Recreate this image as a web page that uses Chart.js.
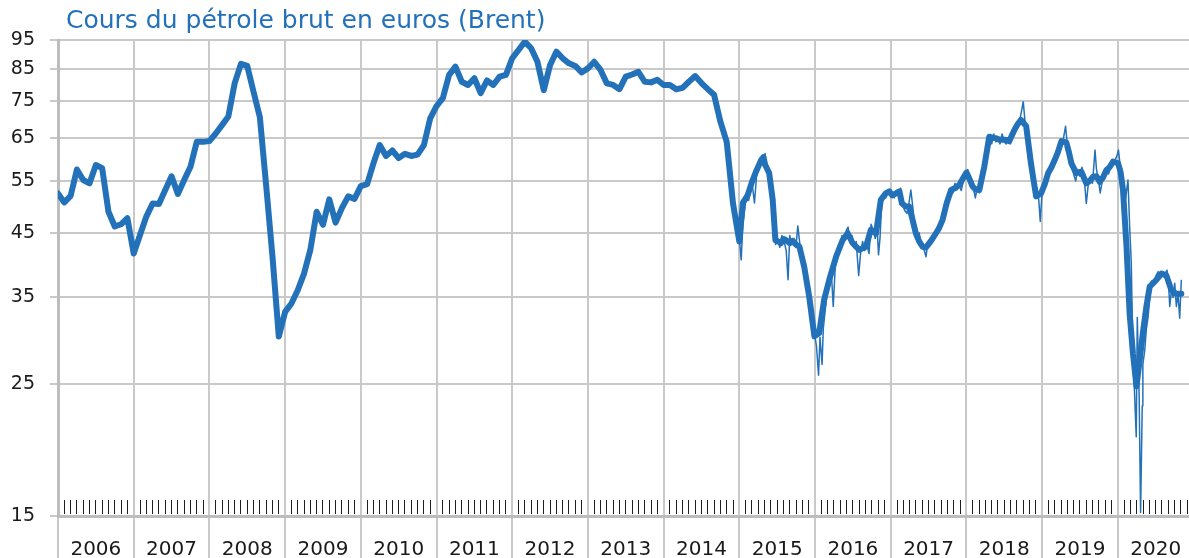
<!DOCTYPE html>
<html><head><meta charset="utf-8">
<script src="https://cdn.jsdelivr.net/npm/chart.js@4.4.1/dist/chart.umd.min.js"></script>
<style>html,body{margin:0;padding:0;background:#fff}#wrap{width:1189px;height:558px}</style>
</head><body><div id="wrap"><canvas id="c" width="1189" height="558"></canvas></div>
<script>
const chartTitle = 'Cours du pétrole brut en euros (Brent)';
const yearLabels = [2006,2007,2008,2009,2010,2011,2012,2013,2014,2015,2016,2017,2018,2019,2020];
const yTickValues = [15,25,35,45,55,65,75,85,95];
const xEnd = 2020.94;

// Monthly averages, Jan 2006 - Dec 2014 (EUR / barrel)
const monthlyStartYear = 2006;
const monthlyPrices = [
  52.4,50.6,51.9,57.5,55.2,54.5,58.5,57.8,48.8,46.1,46.5,47.6,
  41.5,44.6,47.9,50.4,50.3,53.1,56.0,52.3,55.2,58.1,64.0,64.0,
  64.2,66.1,68.3,70.6,80.3,86.6,85.9,77.7,70.4,54.0,41.0,30.1,
  33.1,34.2,36.0,38.4,42.1,48.8,46.4,51.2,46.8,49.5,51.8,51.3,
  53.9,54.3,58.9,63.2,60.6,61.9,60.1,61.1,60.6,60.9,63.2,70.1,
  73.5,75.8,83.0,85.7,80.8,79.8,81.9,77.3,81.2,79.8,82.4,83.0,
  88.5,91.4,94.4,92.0,87.3,78.2,86.2,90.8,88.5,86.8,85.9,83.8,
  85.1,87.3,84.6,80.3,79.8,78.5,82.4,83.1,84.0,80.8,80.6,81.4,
  79.8,79.8,78.5,78.9,80.8,82.6,80.4,78.5,76.8,69.2,64.0,50.4
];

// Smoothed series 2015-2020
const smoothDates = ['2015-01-01','2015-01-18','2015-02-10','2015-03-03','2015-03-22','2015-04-17','2015-04-27','2015-05-06','2015-05-25','2015-06-11','2015-06-24','2015-07-08','2015-07-20','2015-08-03','2015-08-15','2015-09-01','2015-09-15','2015-10-01','2015-10-18','2015-11-10','2015-12-04','2015-12-29',
'2016-01-21','2016-02-14','2016-03-10','2016-04-12','2016-05-13','2016-06-07','2016-07-01','2016-08-02','2016-09-03','2016-09-27','2016-10-22','2016-11-14','2016-12-08','2016-12-25',
'2017-01-09','2017-02-12','2017-02-24','2017-03-15','2017-03-31','2017-04-15','2017-05-02','2017-05-18','2017-06-04','2017-06-20','2017-07-06','2017-07-22','2017-08-07','2017-08-22','2017-09-08','2017-09-28','2017-10-19','2017-11-08','2017-11-28','2017-12-15',
'2018-01-01','2018-01-15','2018-01-31','2018-02-15','2018-03-04','2018-03-28','2018-04-21','2018-05-08','2018-05-24','2018-06-10','2018-06-25','2018-07-10','2018-07-27','2018-08-20','2018-09-05','2018-09-21','2018-10-16','2018-11-08','2018-12-03','2018-12-27',
'2019-01-15','2019-01-30','2019-02-15','2019-03-03','2019-03-18','2019-04-04','2019-04-28','2019-05-10','2019-05-22','2019-06-15','2019-07-09','2019-08-02','2019-08-18','2019-09-04','2019-09-20','2019-10-06','2019-10-22','2019-11-07','2019-11-22','2019-12-09',
'2020-01-02','2020-01-14','2020-01-26','2020-02-12','2020-02-27','2020-03-14','2020-03-31','2020-04-16','2020-05-01','2020-05-18','2020-06-03','2020-06-20','2020-07-06','2020-07-30','2020-08-23','2020-09-16','2020-10-10','2020-11-03'];
const smoothPrices = [43.5,50.5,52.0,54.8,57.0,59.7,60.3,58.5,56.7,51.1,43.7,43.5,43.2,43.9,43.7,43.2,43.6,43.0,42.6,39.4,35.1,30.1,
30.5,34.7,37.5,41.0,43.7,44.9,43.2,42.1,42.6,45.5,44.9,51.1,52.4,52.8,
52.0,52.8,50.4,49.8,49.8,47.5,44.9,43.5,42.6,42.5,43.2,44.0,44.9,45.8,47.3,50.5,53.1,53.5,54.2,55.5,
56.8,55.5,53.8,53.2,53.1,58.1,65.3,65.0,64.9,64.5,64.6,64.5,64.2,67.0,68.5,69.7,68.0,58.9,51.8,52.4,
54.5,56.7,58.0,59.7,61.5,64.2,63.8,61.5,58.9,56.7,57.0,54.5,55.0,55.9,56.0,54.8,55.8,57.4,58.0,59.3,
58.9,57.0,53.1,42.6,32.9,28.2,24.8,27.5,30.5,33.8,36.5,37.0,37.5,38.4,38.1,36.0,35.5,35.5];

// Daily quotes (sampled) late 2014 - 2020
const dailyDates = ['2014-12-20','2015-01-01','2015-01-10','2015-01-18','2015-01-26','2015-02-05','2015-02-15','2015-02-25','2015-03-05','2015-03-15','2015-03-25','2015-04-05','2015-04-15','2015-04-25','2015-05-05','2015-05-15','2015-05-25','2015-06-05','2015-06-15','2015-06-25','2015-07-05','2015-07-15','2015-07-25','2015-08-05','2015-08-15','2015-08-24','2015-09-01','2015-09-12','2015-09-22','2015-10-01','2015-10-10','2015-10-20','2015-10-30','2015-11-10','2015-11-20','2015-12-01','2015-12-10','2015-12-20','2015-12-29',
'2016-01-08','2016-01-18','2016-01-25','2016-02-04','2016-02-10','2016-02-20','2016-03-01','2016-03-10','2016-03-20','2016-03-29','2016-04-08','2016-04-20','2016-05-01','2016-05-10','2016-05-20','2016-06-01','2016-06-09','2016-06-18','2016-06-28','2016-07-08','2016-07-18','2016-07-30','2016-08-08','2016-08-18','2016-08-28','2016-09-08','2016-09-18','2016-09-28','2016-10-08','2016-10-18','2016-10-28','2016-11-03','2016-11-10','2016-11-18','2016-11-28','2016-12-08','2016-12-18','2016-12-28',
'2017-01-08','2017-01-18','2017-01-28','2017-02-08','2017-02-18','2017-02-28','2017-03-10','2017-03-20','2017-03-30','2017-04-08','2017-04-18','2017-04-28','2017-05-08','2017-05-18','2017-05-28','2017-06-08','2017-06-20','2017-06-30','2017-07-10','2017-07-20','2017-07-30','2017-08-10','2017-08-20','2017-08-30','2017-09-08','2017-09-18','2017-09-28','2017-10-08','2017-10-18','2017-10-28','2017-11-07','2017-11-17','2017-11-27','2017-12-07','2017-12-17','2017-12-27',
'2018-01-07','2018-01-17','2018-01-27','2018-02-06','2018-02-13','2018-02-22','2018-03-04','2018-03-14','2018-03-24','2018-04-03','2018-04-13','2018-04-23','2018-05-03','2018-05-13','2018-05-23','2018-06-02','2018-06-12','2018-06-22','2018-07-02','2018-07-12','2018-07-22','2018-08-01','2018-08-11','2018-08-21','2018-08-31','2018-09-10','2018-09-20','2018-10-02','2018-10-10','2018-10-20','2018-10-30','2018-11-08','2018-11-18','2018-11-28','2018-12-08','2018-12-16','2018-12-23','2018-12-30',
'2019-01-10','2019-01-20','2019-01-30','2019-02-10','2019-02-20','2019-03-02','2019-03-12','2019-03-22','2019-04-01','2019-04-11','2019-04-24','2019-05-03','2019-05-13','2019-05-23','2019-06-02','2019-06-12','2019-06-22','2019-07-02','2019-07-12','2019-07-22','2019-08-02','2019-08-12','2019-08-22','2019-09-01','2019-09-13','2019-09-20','2019-09-30','2019-10-08','2019-10-18','2019-10-28','2019-11-07','2019-11-17','2019-11-27','2019-12-07','2019-12-17','2019-12-27',
'2020-01-04','2020-01-12','2020-01-22','2020-02-01','2020-02-08','2020-02-19','2020-02-27','2020-03-06','2020-03-12','2020-03-22','2020-03-30','2020-04-04','2020-04-13','2020-04-20','2020-04-28','2020-05-01','2020-05-10','2020-05-18','2020-05-26','2020-06-05','2020-06-12','2020-06-22','2020-07-02','2020-07-14','2020-07-24','2020-08-04','2020-08-14','2020-08-26','2020-09-02','2020-09-08','2020-09-16','2020-09-24','2020-10-02','2020-10-10','2020-10-18','2020-10-26','2020-11-03'];
const dailyPrices = [48.0,44.0,40.5,46.5,49.0,52.5,51.0,53.5,54.0,50.5,56.0,57.5,59.0,58.5,61.2,57.5,57.5,53.5,48.5,43.0,44.0,42.5,44.5,43.5,42.0,37.5,44.5,43.0,44.0,42.5,46.2,43.0,41.5,40.0,38.0,36.5,34.0,32.0,30.5,
29.0,25.9,30.0,27.0,31.0,33.5,36.0,37.0,38.5,33.8,39.5,42.0,42.5,44.5,43.5,45.5,46.0,43.5,44.5,42.5,43.5,38.1,41.5,43.5,42.0,43.0,41.5,46.5,45.5,44.0,45.5,41.3,44.0,50.0,52.0,51.5,53.0,52.0,
52.5,51.5,53.0,52.5,53.5,50.0,49.0,48.5,50.5,53.1,49.5,45.5,44.0,45.0,43.0,42.5,41.0,43.5,43.0,44.5,45.0,44.5,45.5,46.5,47.0,49.0,50.5,51.5,53.5,52.5,54.5,53.5,54.0,53.0,55.0,56.5,
57.5,56.0,54.5,53.0,51.5,53.5,52.5,55.0,58.5,60.0,64.5,65.5,63.5,66.0,64.0,65.0,63.5,66.0,64.0,63.5,65.0,63.5,65.5,66.5,68.0,69.0,71.0,74.8,69.5,66.0,62.5,59.0,55.0,52.5,53.5,51.0,47.0,51.5,
54.0,55.5,56.0,57.5,58.5,59.0,60.5,62.0,63.5,64.0,68.0,63.0,62.0,58.0,56.5,55.0,57.5,56.0,58.0,56.0,50.4,54.5,55.5,54.5,62.0,57.5,55.0,52.5,55.0,56.0,57.5,56.5,58.0,58.5,59.5,60.5,
62.0,58.5,56.0,53.5,51.5,55.2,46.2,40.0,30.5,24.0,20.4,32.4,24.0,15.2,23.0,27.0,28.5,31.0,32.4,35.5,37.3,37.0,38.0,38.7,37.8,38.7,38.3,38.9,37.0,33.8,36.0,35.0,37.0,33.8,35.5,32.3,37.5];

// ---- helpers ----
function dateToYear(s){
  const [y,m,d] = s.split('-').map(Number);
  const t0 = Date.UTC(y,0,1), t1 = Date.UTC(y+1,0,1);
  return y + (Date.UTC(y,m-1,d) - t0) / (t1 - t0);
}
const thickPoints = monthlyPrices.map((v,i) => ({x: monthlyStartYear + i/12, y: v}))
  .concat(smoothDates.map((d,i) => ({x: dateToYear(d), y: smoothPrices[i]})));
const thinPoints = dailyDates.map((d,i) => ({x: dateToYear(d), y: dailyPrices[i]}));
const monthTicks = [];
yearLabels.forEach(y => { for (let m = 1; m < 12; m++) { const v = y + m/12; if (v < xEnd) monthTicks.push({value: v}); } });

const blue = '#2371b9';
const gridGrey = '#c9c9c9';
const axisGrey = '#bdbdbd';

const titleShift = {
  id: 'titleShift',
  afterLayout(chart){ if (chart.titleBlock){ chart.titleBlock.left += 8; chart.titleBlock.right += 8; } }
};

new Chart(document.getElementById('c'), {
  type: 'line',
  data: { datasets: [
    { label: 'quotidien', data: thinPoints, borderColor: blue, borderWidth: 1.5, pointRadius: 0, tension: 0, order: 0, borderJoinStyle: 'round' },
    { label: 'moyenne', data: thickPoints, borderColor: blue, borderWidth: 6, pointRadius: 0, tension: 0, order: 1, borderJoinStyle: 'round', borderCapStyle: 'round' }
  ]},
  options: {
    responsive: false, animation: false, events: [],
    layout: { padding: 0 },
    plugins: {
      legend: { display: false }, tooltip: { enabled: false },
      title: { display: true, text: chartTitle, align: 'start', fullSize: false, color: blue,
        font: { family: 'DejaVu Sans', size: 25, weight: 'normal' }, padding: { top: 6, bottom: 4 } }
    },
    scales: {
      x: {
        type: 'linear', min: 2006, max: xEnd, position: 'bottom',
        afterBuildTicks: s => { s.ticks = yearLabels.map(v => ({value: v})); },
        afterFit: s => { s.height = 42; },
        ticks: { autoSkip: false, maxRotation: 0, labelOffset: 37.85, padding: -20, color: '#1a1a1a',
          font: { family: 'DejaVu Sans', size: 20 }, callback: v => String(v) },
        grid: { color: gridGrey, lineWidth: 2, tickLength: 42, drawTicks: true },
        border: { color: axisGrey, width: 3 }
      },
      xm: {
        type: 'linear', min: 2006, max: xEnd, position: { y: 15.96 },
        afterBuildTicks: s => { s.ticks = monthTicks.slice(); },
        ticks: { display: false },
        grid: { drawOnChartArea: false, drawTicks: true, tickLength: 14, color: '#1e1e1e', lineWidth: 1 },
        border: { display: false }
      },
      y: {
        type: 'logarithmic', min: 15, max: 95, position: 'left',
        afterBuildTicks: s => { s.ticks = yTickValues.map(v => ({value: v})); },
        afterFit: s => { s.width = 58; },
        ticks: { padding: 15, color: '#1a1a1a', font: { family: 'DejaVu Sans', size: 19 }, callback: v => String(v), autoSkip: false },
        grid: { color: gridGrey, lineWidth: 2, tickLength: 8 },
        border: { color: axisGrey, width: 3 }
      }
    }
  },
  plugins: [titleShift]
});
</script>
</body></html>
